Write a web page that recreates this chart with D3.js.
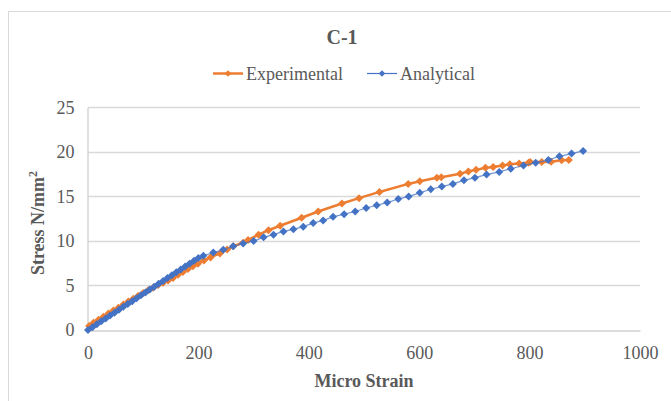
<!DOCTYPE html>
<html><head><meta charset="utf-8">
<script src="https://cdn.jsdelivr.net/npm/d3@7/dist/d3.min.js"></script>
<style>html,body{margin:0;padding:0;background:#fff;}svg{display:block;}</style>
</head><body>
<script>
const title = "C-1";
const seriesNames = ["Experimental", "Analytical"];
const xTicks = [0, 200, 400, 600, 800, 1000];
const yTicks = [0, 5, 10, 15, 20, 25];
const expStrain = [2,10,19,28,37,46,55,64,73,82,91,100,109,118,127,136,145,154,163,172,181,190,199,210,222,239,252,263,281,290,309,327,348,387,417,460,491,528,580,601,632,640,674,689,703,720,734,751,764,781,798,801,822,839,858,871];
const expStress = [0.45,0.8,1.15,1.5,1.85,2.2,2.5,2.85,3.2,3.5,3.85,4.15,4.45,4.75,5.05,5.3,5.55,5.85,6.2,6.5,6.85,7.15,7.45,7.8,8.15,8.6,9.05,9.4,9.8,10.1,10.7,11.2,11.7,12.6,13.3,14.2,14.8,15.5,16.4,16.7,17.1,17.15,17.55,17.8,18.0,18.2,18.3,18.47,18.6,18.7,18.77,18.85,18.85,18.9,19.05,19.07];
const anaStrain = [0,8,16,24,32,40,48,56,64,72,80,88,96,104,112,120,128,136,144,152,160,168,176,184,192,200,209,227,245,263,281,300,318,336,354,372,390,408,426,444,464,484,504,523,542,562,581,601,621,641,661,681,701,722,745,766,789,811,834,854,876,897];
const anaStress = [0,0.32,0.65,0.97,1.3,1.62,1.95,2.27,2.6,2.92,3.24,3.57,3.89,4.21,4.54,4.86,5.18,5.5,5.83,6.15,6.47,6.8,7.12,7.44,7.76,8.07,8.33,8.7,9.0,9.4,9.7,10.0,10.4,10.7,11.07,11.3,11.6,12.0,12.3,12.7,13.0,13.3,13.7,14.0,14.3,14.7,15.0,15.4,15.8,16.1,16.4,16.8,17.1,17.45,17.75,18.1,18.47,18.77,19.07,19.5,19.8,20.1];
const colors = ["#ED7D31", "#4472C4"];

const W = 671, H = 401;
const svg = d3.select("body").append("svg").attr("width", W).attr("height", H);
const font = "'Liberation Serif','Times New Roman',serif";
const tc = "#595959";

// chart border (cropped at right/bottom)
svg.append("rect").attr("x", 8.5).attr("y", 11.5).attr("width", 700).attr("height", 420)
  .attr("fill", "none").attr("stroke", "#D9D9D9").attr("stroke-width", 1);

const x = d3.scaleLinear().domain([0, 1000]).range([88, 640]);
const y = d3.scaleLinear().domain([0, 25]).range([330, 107.3]);

// gridlines
svg.append("g").selectAll("line").data(yTicks.filter(d => d > 0)).join("line")
  .attr("x1", x(0)).attr("x2", x(1000))
  .attr("y1", d => Math.round(y(d)) + 0.5).attr("y2", d => Math.round(y(d)) + 0.5)
  .attr("stroke", "#D9D9D9").attr("stroke-width", 1.3);

// axes
const xAxis = svg.append("g").attr("transform", `translate(0,${Math.round(y(0)) + 0.5})`)
  .call(d3.axisBottom(x).tickValues(xTicks).tickSize(0).tickPadding(16).tickFormat(d3.format("d")));
xAxis.select(".domain").attr("stroke", "#D0D0D0").attr("stroke-width", 1.3);
xAxis.selectAll("text").attr("font-family", font).attr("font-size", 18).attr("fill", tc);

const yAxis = svg.append("g").attr("transform", `translate(${Math.round(x(0)) - 0.5},0)`)
  .call(d3.axisLeft(y).tickValues(yTicks).tickSize(0).tickPadding(13));
yAxis.select(".domain").attr("stroke", "#D0D0D0").attr("stroke-width", 1.3);
yAxis.selectAll("text").attr("font-family", font).attr("font-size", 18).attr("fill", tc);

// series
const series = [
  {name: seriesNames[0], xs: expStrain, ys: expStress, color: colors[0], lw: 2.5, op: 1},
  {name: seriesNames[1], xs: anaStrain, ys: anaStress, color: colors[1], lw: 1.2, op: 0.75}
];
const diamond = (cx, cy, r) => `M${cx},${cy - r}L${cx + r},${cy}L${cx},${cy + r}L${cx - r},${cy}Z`;
series.forEach(s => {
  const pts = s.xs.map((v, i) => [v, s.ys[i]]);
  const line = d3.line().x(d => x(d[0])).y(d => y(d[1]));
  svg.append("path").attr("d", line(pts)).attr("fill", "none")
    .attr("stroke", s.color).attr("stroke-width", s.lw).attr("stroke-opacity", s.op)
    .attr("stroke-linejoin", "round");
  svg.append("g").selectAll("path").data(pts).join("path")
    .attr("d", d => diamond(x(d[0]), y(d[1]), 4)).attr("fill", s.color);
});

// title
svg.append("text").attr("x", 342).attr("y", 44).attr("text-anchor", "middle")
  .attr("font-family", font).attr("font-size", 20).attr("font-weight", "bold").attr("fill", tc).text(title);

// legend
const legend = [
  {x1: 213, x2: 243, tx: 246, name: seriesNames[0], color: colors[0], lw: 2.5},
  {x1: 367, x2: 397, tx: 400, name: seriesNames[1], color: colors[1], lw: 1.2}
];
legend.forEach(l => {
  svg.append("line").attr("x1", l.x1).attr("x2", l.x2).attr("y1", 73.5).attr("y2", 73.5)
    .attr("stroke", l.color).attr("stroke-width", l.lw);
  svg.append("path").attr("d", diamond((l.x1 + l.x2) / 2, 73.5, 3.2)).attr("fill", l.color);
  svg.append("text").attr("x", l.tx).attr("y", 80).attr("font-family", font).attr("font-size", 18)
    .attr("fill", tc).text(l.name);
});

// axis titles
svg.append("text").attr("x", 364).attr("y", 387).attr("text-anchor", "middle")
  .attr("font-family", font).attr("font-size", 18).attr("font-weight", "bold").attr("fill", tc).text("Micro Strain");
const yt = svg.append("text").attr("transform", "translate(44,223) rotate(-90)").attr("text-anchor", "middle")
  .attr("font-family", font).attr("font-size", 18).attr("font-weight", "bold").attr("fill", tc);
yt.append("tspan").text("Stress N/mm");
yt.append("tspan").attr("dy", -7).attr("font-size", 12).text("2");
</script>
</body></html>
